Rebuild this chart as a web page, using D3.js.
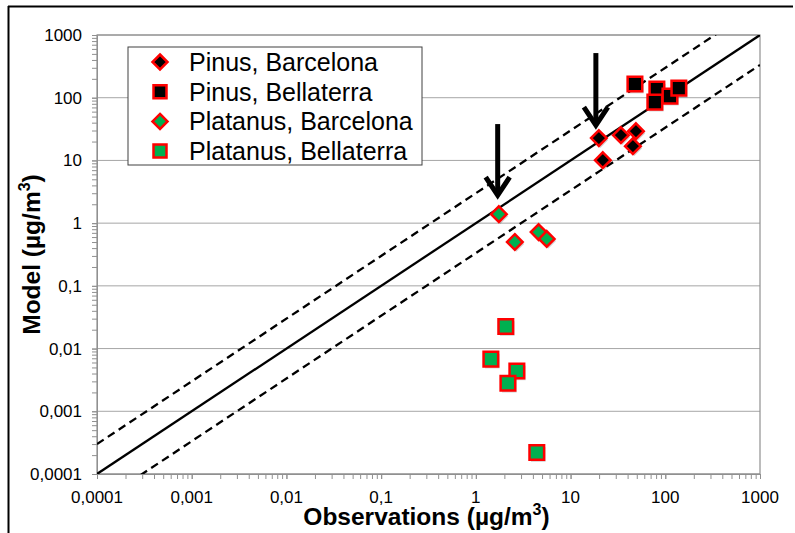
<!DOCTYPE html>
<html>
<head>
<meta charset="utf-8">
<script src="https://cdn.jsdelivr.net/npm/d3@7"></script>
<style>
  body { margin: 0; background: #fff; }
  text { font-family: "Liberation Sans", Arial, sans-serif; }
</style>
</head>
<body>
<div id="chart"></div>
<script>
// observed vs model values, one array pair per series
const pinusBcnObs = [19.9, 21.9, 34, 49, 45.5];
const pinusBcnMod = [22.7, 10.1, 25.3, 29.3, 16.9];
const pinusBellObs = [47.8, 81.5, 77.6, 112, 139];
const pinusBellMod = [165, 137, 85, 106, 142];
const platBcnObs = [1.75, 2.58, 4.6, 5.6];
const platBcnMod = [1.39, 0.50, 0.72, 0.56];
const platBellObs = [2.07, 1.44, 2.71, 2.18, 4.4];
const platBellMod = [0.0225, 0.0068, 0.0044, 0.0028, 0.00022];

const seriesNames = ["Pinus, Barcelona", "Pinus, Bellaterra", "Platanus, Barcelona", "Platanus, Bellaterra"];
const tickValues = [0.0001, 0.001, 0.01, 0.1, 1, 10, 100, 1000];
const tickLabels = ["0,0001", "0,001", "0,01", "0,1", "1", "10", "100", "1000"];
// arrows: x, top y, tip y
const arrowX = [18.5, 1.7];
const arrowTop = [515, 38];
const arrowTip = [32.7, 2.5];

const width = 795, height = 533;
const margin = {top: 35, right: 35, bottom: 59, left: 97};
const innerWidth = width - margin.left - margin.right;
const innerHeight = height - margin.top - margin.bottom;

const svg = d3.select("#chart").append("svg")
    .attr("width", width).attr("height", height);

// image frame (top + left edge)
svg.append("path")
    .attr("d", "M8,6.5 H793 M8.5,6 V533")
    .attr("stroke", "#000").attr("stroke-width", 2).attr("fill", "none");

const xScale = d3.scaleLog().domain([0.0001, 1000]).range([0, innerWidth]);
const yScale = d3.scaleLog().domain([0.0001, 1000]).range([innerHeight, 0]);

const inner = svg.append("g").attr("transform", `translate(${margin.left}, ${margin.top})`);

// horizontal gridlines
inner.selectAll(".grid").data(tickValues).join("line")
    .attr("x1", 0).attr("x2", innerWidth)
    .attr("y1", d => yScale(d)).attr("y2", d => yScale(d))
    .attr("stroke", "#a6a6a6").attr("stroke-width", 1);

// plot frame
inner.append("rect")
    .attr("width", innerWidth).attr("height", innerHeight)
    .attr("fill", "none").attr("stroke", "#909090").attr("stroke-width", 1.2);

const minorTicks = [];
for (let e = -4; e < 3; e++) for (let m = 1; m <= 10; m++) minorTicks.push(m * Math.pow(10, e));

const bottomAxis = d3.axisBottom(xScale).tickValues(minorTicks).tickSize(5).tickFormat("");
inner.append("g").attr("transform", `translate(0, ${innerHeight})`).call(bottomAxis)
    .call(g => g.selectAll(".tick text").remove())
    .call(g => g.select(".domain").attr("stroke", "#909090"))
    .call(g => g.selectAll(".tick line").attr("stroke", "#909090"));

const leftAxis = d3.axisLeft(yScale).tickValues(minorTicks).tickSize(5).tickFormat("");
inner.append("g").call(leftAxis)
    .call(g => g.selectAll(".tick text").remove())
    .call(g => g.select(".domain").attr("stroke", "#909090"))
    .call(g => g.selectAll(".tick line").attr("stroke", "#909090"));

// tick labels
inner.selectAll(".xlab").data(tickValues).join("text")
    .attr("x", d => xScale(d)).attr("y", innerHeight + 29)
    .attr("text-anchor", "middle").attr("font-size", 17)
    .text((d, i) => tickLabels[i]);
inner.selectAll(".ylab").data(tickValues).join("text")
    .attr("x", -15).attr("y", d => yScale(d) + 6)
    .attr("text-anchor", "end").attr("font-size", 17)
    .text((d, i) => tickLabels[i]);

// axis titles
svg.append("text")
    .attr("x", margin.left + innerWidth / 2 - 2).attr("y", 525)
    .attr("text-anchor", "middle").attr("font-size", 24.5).attr("font-weight", "bold")
    .html('Observations (µg/m<tspan dy="-10" font-size="16">3</tspan><tspan dy="10">)</tspan>');
svg.append("text")
    .attr("transform", `translate(40, ${margin.top + innerHeight / 2}) rotate(-90)`)
    .attr("text-anchor", "middle").attr("font-size", 24.5).attr("font-weight", "bold")
    .html('Model (µg/m<tspan dy="-10" font-size="16">3</tspan><tspan dy="10">)</tspan>');

// 1:1 and factor-3 lines
inner.append("clipPath").attr("id", "plotclip")
    .append("rect").attr("width", innerWidth).attr("height", innerHeight);
const refLines = [
    {f: 1, dash: null},
    {f: 3, dash: "8,5"},
    {f: 1 / 3, dash: "8,5"}
];
inner.append("g").attr("clip-path", "url(#plotclip)")
    .selectAll("line").data(refLines).join("line")
    .attr("x1", xScale(0.0001)).attr("y1", d => yScale(0.0001 * d.f))
    .attr("x2", xScale(1000)).attr("y2", d => yScale(1000 * d.f))
    .attr("stroke", "#000").attr("stroke-width", 2.3)
    .attr("stroke-dasharray", d => d.dash);

// arrows
arrowX.forEach((x, i) => {
    const ax = xScale(x), y0 = yScale(arrowTop[i]), y1 = yScale(arrowTip[i]);
    const g = inner.append("g").attr("stroke", "#000").attr("fill", "none")
        .attr("stroke-width", 5);
    g.append("line").attr("x1", ax).attr("x2", ax).attr("y1", y0).attr("y2", y1 - 3);
    g.append("path").attr("d", `M${ax - 12},${y1 - 21} L${ax},${y1 - 3} L${ax + 12},${y1 - 21}`)
        .attr("stroke-linejoin", "miter");
});

// markers
const symDiamond = (cx, cy, s) => `M${cx},${cy - s} L${cx + s},${cy} L${cx},${cy + s} L${cx - s},${cy} Z`;
const symSquare = (cx, cy, s) => `M${cx - s},${cy - s} H${cx + s} V${cy + s} H${cx - s} Z`;

const series = [
    {obs: pinusBcnObs, mod: pinusBcnMod, shape: "diamond", fill: "#000"},
    {obs: pinusBellObs, mod: pinusBellMod, shape: "square", fill: "#000"},
    {obs: platBcnObs, mod: platBcnMod, shape: "diamond", fill: "#00b050"},
    {obs: platBellObs, mod: platBellMod, shape: "square", fill: "#00b050"}
];

const markerPath = (shape, cx, cy) => shape === "diamond" ? symDiamond(cx, cy, 7.8) : symSquare(cx, cy, 7.3);

series.forEach(s => {
    const pts = s.obs.map((o, i) => ({x: o, y: s.mod[i]}));
    // soft shadow
    inner.append("g").selectAll("path").data(pts).join("path")
        .attr("d", d => markerPath(s.shape, xScale(d.x) + 1.5, yScale(d.y) + 2))
        .attr("fill", "rgba(0,0,0,0.18)");
    inner.append("g").selectAll("path").data(pts).join("path")
        .attr("d", d => markerPath(s.shape, xScale(d.x), yScale(d.y)))
        .attr("fill", s.fill).attr("stroke", "#ff0000").attr("stroke-width", 2.5);
});

// legend
const legend = svg.append("g").attr("transform", "translate(128, 47)");
legend.append("rect").attr("width", 294).attr("height", 118)
    .attr("fill", "#fff").attr("stroke", "#404040").attr("stroke-width", 1);
seriesNames.forEach((name, i) => {
    const cy = 15 + i * 29.7;
    const s = series[i];
    legend.append("path")
        .attr("d", s.shape === "diamond" ? symDiamond(32, cy, 7.5) : symSquare(32, cy, 6.5))
        .attr("fill", s.fill).attr("stroke", "#ff0000").attr("stroke-width", 2.5);
    legend.append("text").attr("x", 61).attr("y", cy + 9)
        .attr("font-size", 25).text(name);
});
</script>
</body>
</html>
